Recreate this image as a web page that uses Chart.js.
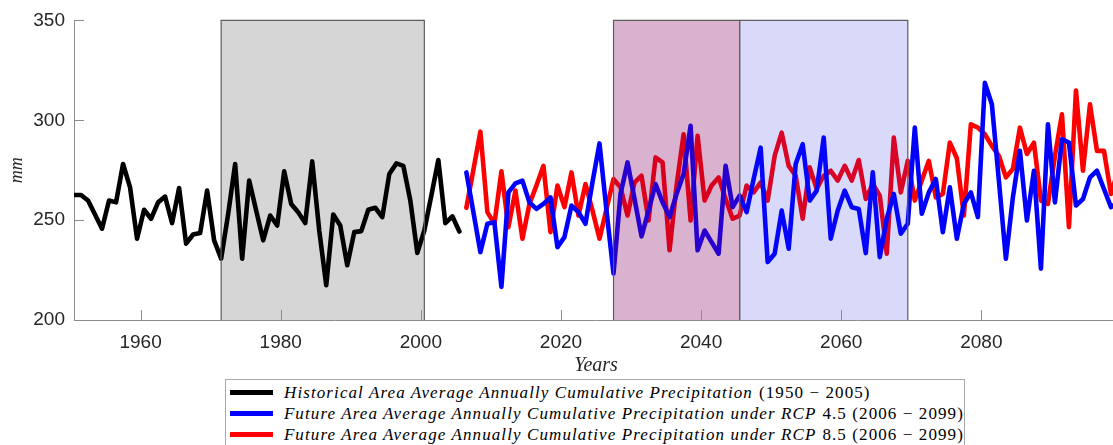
<!DOCTYPE html>
<html>
<head>
<meta charset="utf-8">
<script src="https://cdn.jsdelivr.net/npm/chart.js@4"></script>
<style>
  html, body { margin: 0; padding: 0; background: #fff; overflow: hidden; }
  #wrap { position: relative; width: 1118px; height: 445px; }
  #legend {
    position: absolute; left: 225px; top: 379px; width: 740px; height: 72px;
    box-sizing: border-box; border: 1px solid #a8a8a8; background: #fff;
    padding-top: 2px; font: 17px "Liberation Serif", serif; color: #000;
    letter-spacing: 1.1px;
  }
  .row { display: flex; align-items: center; height: 21px; white-space: nowrap; }
  .bar { width: 43px; height: 5px; margin-left: 4px; margin-right: 11px; }
  .row i { margin-right: 6px; }
</style>
</head>
<body>
<div id="wrap">
  <canvas id="myChart" width="1118" height="378"></canvas>
  <div id="legend"></div>
</div>
<script>
// annual cumulative precipitation, mm
const histYears = [1950, 2005];
const histValues = [
  262.6, 262.6, 259.8, 252.8, 245.7, 259.8, 258.9, 278.1, 266.4, 240.7,
  255.2, 250.7, 258.9, 261.8, 248.5, 266.1, 238.2, 242.8, 243.5, 264.8,
  239.9, 230.7, 253.0, 278.1, 230.7, 269.8, 254.8, 239.9, 252.3, 247.3,
  274.4, 258.1, 254.0, 248.5, 279.4, 244.8, 217.4, 252.8, 247.3, 227.4,
  244.0, 244.5, 255.2, 256.2, 251.5, 273.1, 278.4, 277.2, 259.8, 233.6,
  244.8, 262.3, 280.1, 248.5, 251.9, 244.3
];
const futureYears = [2006, 2099];
const rcp45Values = [
  273.9, 254.0, 234.0, 248.2, 249.0, 216.6, 263.9, 268.4, 269.8, 258.9,
  255.6, 258.1, 261.4, 236.5, 241.5, 257.3, 254.0, 248.2, 269.0, 288.4,
  254.8, 223.3, 263.1, 278.9, 260.6, 241.9, 254.8, 268.1, 258.9, 251.5,
  263.1, 273.1, 297.2, 234.9, 244.8, 239.0, 233.2, 277.2, 256.5, 262.3,
  254.0, 270.6, 286.3, 229.0, 233.2, 254.8, 235.7, 278.1, 288.0, 259.8,
  264.8, 291.3, 240.7, 254.8, 264.8, 256.5, 255.6, 233.5, 273.9, 231.5,
  250.7, 263.1, 243.2, 248.2, 296.3, 253.2, 263.9, 270.6, 244.0, 266.4,
  240.7, 258.1, 263.9, 251.5, 318.7, 308.0, 269.8, 230.7, 261.4, 284.7,
  249.8, 274.7, 225.7, 298.0, 258.9, 290.5, 288.8, 257.3, 260.6, 271.4,
  274.7, 265.6, 256.5, 258.9
];
const rcp85Values = [
  256.2, 275.2, 294.3, 254.0, 248.2, 274.4, 246.5, 264.8, 240.7, 258.1,
  267.3, 277.2, 244.0, 267.3, 256.5, 273.9, 252.3, 268.1, 254.8, 240.7,
  255.6, 270.6, 266.4, 252.3, 268.9, 272.2, 249.8, 281.4, 278.9, 234.9,
  267.3, 293.0, 249.8, 292.2, 259.8, 267.3, 271.4, 260.6, 250.7, 252.3,
  267.3, 263.9, 268.9, 259.8, 282.2, 293.8, 277.2, 272.2, 250.7, 276.4,
  265.6, 272.2, 274.7, 269.8, 277.2, 269.8, 280.1, 260.6, 268.1, 262.3,
  233.2, 291.3, 263.9, 279.7, 259.8, 269.8, 279.7, 261.4, 263.1, 288.8,
  281.0, 252.3, 298.0, 296.3, 293.0, 287.2, 282.2, 271.4, 275.6, 296.3,
  283.1, 288.8, 259.8, 258.1, 282.2, 303.0, 246.5, 314.9, 274.7, 308.0,
  284.7, 284.7, 263.1, 274.7
];

// shaded periods: baseline, near future, far future (first and last year)
const baselinePeriod = [1971, 2000];
const nearPeriod = [2027, 2045];
const farPeriod = [2045, 2069];

const xTicks = [1960, 1980, 2000, 2020, 2040, 2060, 2080];
const yTicks = [200, 250, 300, 350];

const seriesNames = [
  ['Historical Area Average Annually Cumulative Precipitation', '(1950 − 2005)'],
  ['Future Area Average Annually Cumulative Precipitation under RCP', '4.5 (2006 − 2099)'],
  ['Future Area Average Annually Cumulative Precipitation under RCP', '8.5 (2006 − 2099)']
];
const seriesColors = ['#000000', '#0000ff', '#ff0000'];

// each annual value sits in the middle of its year
const MID = 0.5;
function toPoints(range, values) {
  return values.map((v, i) => ({ x: range[0] + i + MID, y: v }));
}

const axisColor = '#8c8c8c';
const tickFont = { family: '"Liberation Sans", Arial, sans-serif', size: 19 };

const periodPlugin = {
  id: 'periods',
  beforeDatasetsDraw(chart) {
    const { ctx, chartArea: a, scales: { x } } = chart;
    const l = x.getPixelForValue(baselinePeriod[0] + MID);
    const r = x.getPixelForValue(baselinePeriod[1] + MID);
    ctx.save();
    ctx.fillStyle = '#d6d6d6';
    ctx.fillRect(l, a.top, r - l, a.bottom - a.top);
    ctx.restore();
  },
  afterDatasetsDraw(chart) {
    const { ctx, chartArea: a, scales: { x, y } } = chart;
    const fills = [
      [nearPeriod, 'rgba(128, 0, 100, 0.3)'],
      [farPeriod, 'rgba(30, 30, 225, 0.17)']
    ];
    ctx.save();
    fills.forEach(([p, c]) => {
      const l = x.getPixelForValue(p[0] + MID);
      const r = x.getPixelForValue(p[1] + MID);
      ctx.fillStyle = c;
      ctx.fillRect(l, a.top, r - l, a.bottom - a.top);
    });
    // patch outlines
    ctx.strokeStyle = '#5e5e5e';
    ctx.lineWidth = 1.2;
    [baselinePeriod, nearPeriod, farPeriod].forEach(p => {
      const l = x.getPixelForValue(p[0] + MID);
      const r = x.getPixelForValue(p[1] + MID);
      ctx.beginPath();
      ctx.moveTo(l, a.bottom);
      ctx.lineTo(l, a.top);
      ctx.lineTo(r, a.top);
      ctx.lineTo(r, a.bottom);
      ctx.stroke();
    });
    // inward tick marks
    ctx.strokeStyle = axisColor;
    ctx.lineWidth = 1;
    xTicks.forEach(t => {
      const px = Math.round(x.getPixelForValue(t)) + 0.5;
      ctx.beginPath();
      ctx.moveTo(px, a.bottom);
      ctx.lineTo(px, a.bottom - 10);
      ctx.stroke();
    });
    yTicks.forEach(t => {
      const py = Math.round(y.getPixelForValue(t)) + 0.5;
      ctx.beginPath();
      ctx.moveTo(a.left, py);
      ctx.lineTo(a.left + 10, py);
      ctx.stroke();
    });
    ctx.restore();
  }
};

const ctx = document.getElementById('myChart').getContext('2d');

const config = {
  type: 'line',
  data: {
    datasets: [
      { label: seriesNames[0].join(' '), data: toPoints(histYears, histValues) },
      { label: seriesNames[1].join(' '), data: toPoints(futureYears, rcp45Values) },
      { label: seriesNames[2].join(' '), data: toPoints(futureYears, rcp85Values) }
    ].map((d, i) => Object.assign(d, {
      borderColor: seriesColors[i],
      backgroundColor: seriesColors[i],
      borderWidth: 4.6,
      borderJoinStyle: 'round',
      borderCapStyle: 'round',
      pointRadius: 0,
      tension: 0,
      fill: false
    }))
  },
  options: {
    responsive: false,
    animation: false,
    layout: { padding: { top: 19, right: 0, left: 0, bottom: 0 } },
    plugins: { legend: { display: false }, tooltip: { enabled: false } },
    scales: {
      x: {
        type: 'linear',
        min: histYears[0] + MID,
        max: futureYears[1] + MID,
        grid: { display: false, drawTicks: false },
        border: { display: true, color: axisColor, width: 1 },
        afterBuildTicks: s => { s.ticks = xTicks.map(v => ({ value: v })); },
        afterFit: s => { s.height = 58; },
        ticks: { padding: 11, color: '#262626', font: tickFont, callback: v => String(v), maxRotation: 0 },
        title: {
          display: true, text: 'Years', color: '#262626',
          font: { family: '"Liberation Serif", serif', size: 20, style: 'italic' },
          padding: { top: 0, bottom: 0 }
        }
      },
      y: {
        min: 200,
        max: 350,
        grid: { display: false, drawTicks: false },
        border: { display: true, color: axisColor, width: 1 },
        afterBuildTicks: s => { s.ticks = yTicks.map(v => ({ value: v })); },
        afterFit: s => { s.width = 74; },
        ticks: { padding: 9, color: '#262626', font: tickFont, callback: v => String(v) },
        title: {
          display: true, text: 'mm', color: '#262626',
          font: { family: '"Liberation Serif", serif', size: 18, style: 'italic' },
          padding: { top: 6, bottom: 0 }
        }
      }
    }
  },
  plugins: [periodPlugin]
};

const myChart = new Chart(ctx, config);

// legend below the axes
const legend = document.getElementById('legend');
seriesNames.forEach((name, i) => {
  const row = document.createElement('div');
  row.className = 'row';
  const bar = document.createElement('span');
  bar.className = 'bar';
  bar.style.background = seriesColors[i];
  const it = document.createElement('i');
  it.textContent = name[0];
  const rest = document.createElement('span');
  rest.textContent = name[1];
  row.append(bar, it, rest);
  legend.appendChild(row);
});
</script>
</body>
</html>
